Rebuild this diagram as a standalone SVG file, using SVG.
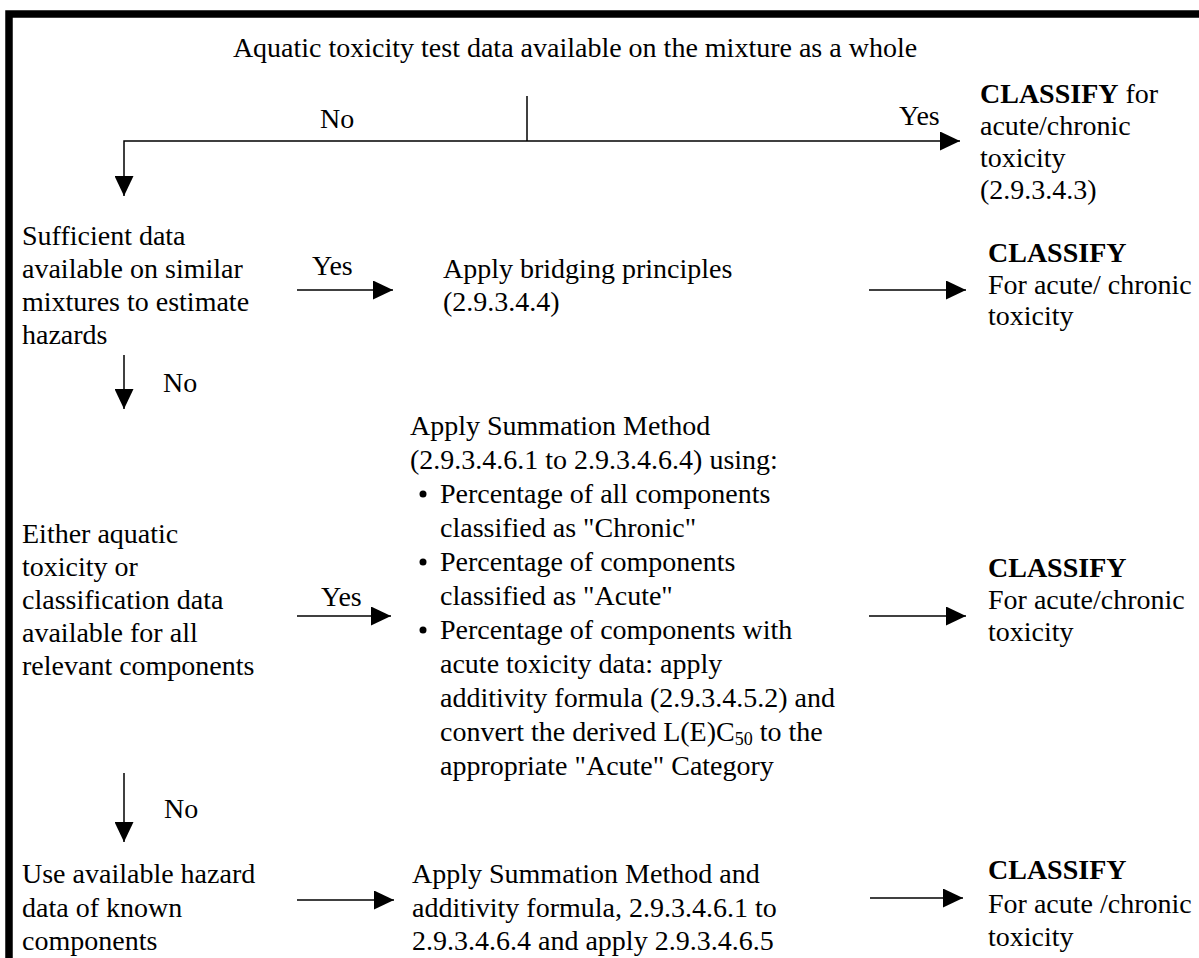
<svg xmlns="http://www.w3.org/2000/svg" width="1199" height="958" viewBox="0 0 1199 958">
<defs>
<marker id="ah" markerUnits="userSpaceOnUse" markerWidth="20" markerHeight="19" refX="20" refY="9.5" orient="auto" viewBox="0 0 20 19">
<path d="M0,0 L20,9.5 L0,19 Z" fill="#000"/>
</marker>
</defs>
<rect width="1199" height="958" fill="#fff"/>
<path d="M9,990 L9,14 L1230,14" fill="none" stroke="#000" stroke-width="7.5"/>
<g font-size="28" font-family="'Liberation Serif', 'Times New Roman', serif">
<g id="n-top"><text x="575" y="57" text-anchor="middle">Aquatic toxicity test data available on the mixture as a whole</text></g>
<g id="n-classify1"><text x="980" y="103"><tspan font-weight="bold">CLASSIFY</tspan> for</text><text x="980" y="135">acute/chronic</text><text x="980" y="167">toxicity</text><text x="980" y="199">(2.9.3.4.3)</text></g>
<g id="n-sufficient"><text x="22" y="245">Sufficient data</text><text x="22" y="278">available on similar</text><text x="22" y="311">mixtures to estimate</text><text x="22" y="344">hazards</text></g>
<g id="n-bridging"><text x="443" y="278">Apply bridging principles</text><text x="443" y="311">(2.9.3.4.4)</text></g>
<g id="n-classify2"><text x="988" y="262" font-weight="bold">CLASSIFY</text><text x="988" y="294">For acute/ chronic</text><text x="988" y="325">toxicity</text></g>
<g id="n-either"><text x="22" y="543">Either aquatic</text><text x="22" y="576">toxicity or</text><text x="22" y="609">classification data</text><text x="22" y="642">available for all</text><text x="22" y="675">relevant components</text></g>
<g id="n-summation"><text x="410" y="435">Apply Summation Method</text><text x="410" y="469">(2.9.3.4.6.1 to 2.9.3.4.6.4) using:</text>
<circle cx="423" cy="494" r="3.5"/><text x="440" y="503">Percentage of all components</text><text x="440" y="537">classified as "Chronic"</text>
<circle cx="423" cy="562" r="3.5"/><text x="440" y="571">Percentage of components</text><text x="440" y="605">classified as "Acute"</text>
<circle cx="423" cy="630" r="3.5"/><text x="440" y="639">Percentage of components with</text><text x="440" y="673">acute toxicity data: apply</text><text x="440" y="707">additivity formula (2.9.3.4.5.2) and</text><text x="440" y="741">convert the derived L(E)C<tspan font-size="18" dy="4">50</tspan><tspan dy="-4"> to the</tspan></text><text x="440" y="775">appropriate "Acute" Category</text></g>
<g id="n-classify3"><text x="988" y="577" font-weight="bold">CLASSIFY</text><text x="988" y="609">For acute/chronic</text><text x="988" y="641">toxicity</text></g>
<g id="n-use"><text x="22" y="883">Use available hazard</text><text x="22" y="917">data of known</text><text x="22" y="950">components</text></g>
<g id="n-summation2"><text x="412" y="883">Apply Summation Method and</text><text x="412" y="917">additivity formula, 2.9.3.4.6.1 to</text><text x="412" y="950">2.9.3.4.6.4 and apply 2.9.3.4.6.5</text></g>
<g id="n-classify4"><text x="988" y="879" font-weight="bold">CLASSIFY</text><text x="988" y="913">For acute /chronic</text><text x="988" y="946">toxicity</text></g>
<g id="connectors" stroke="#000" stroke-width="1.5" fill="none">
<path d="M527,96 L527,141"/>
<path d="M527,141 L124,141 L124,196" marker-end="url(#ah)"/>
<path d="M527,141 L960,141" marker-end="url(#ah)"/>
<path d="M297,290 L393,290" marker-end="url(#ah)"/>
<path d="M869,290 L966,290" marker-end="url(#ah)"/>
<path d="M124,355 L124,409" marker-end="url(#ah)"/>
<path d="M297,616 L391,616" marker-end="url(#ah)"/>
<path d="M869,616 L966,616" marker-end="url(#ah)"/>
<path d="M124,773 L124,842" marker-end="url(#ah)"/>
<path d="M297,900 L394,900" marker-end="url(#ah)"/>
<path d="M870,898 L963,898" marker-end="url(#ah)"/>
</g>
<g id="labels">
<text x="320" y="128">No</text>
<text x="899" y="125">Yes</text>
<text x="312" y="275">Yes</text>
<text x="163" y="392">No</text>
<text x="321" y="606">Yes</text>
<text x="164" y="818">No</text>
</g>
</g>
</svg>
